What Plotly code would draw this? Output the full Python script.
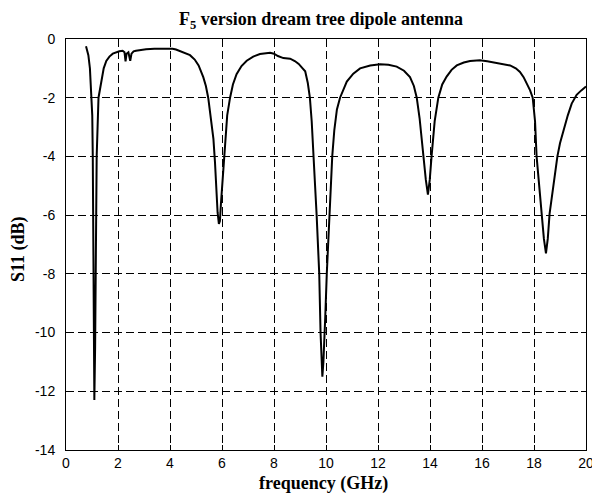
import plotly.graph_objects as go

# Measured return loss of the F5 dream tree dipole antenna
freq_ghz = [
    0.77, 0.79, 0.86, 0.92, 0.97, 1.01, 1.03, 1.05, 1.07, 1.09, 1.12, 1.15, 1.18, 1.25,
    1.37, 1.45, 1.55, 1.67, 1.8, 1.92, 2.05, 2.18, 2.25, 2.29, 2.33, 2.4, 2.47, 2.52,
    2.6, 2.69, 2.85, 3.08, 3.4, 3.85, 4.1, 4.23, 4.4, 4.55, 4.77, 4.95, 5.1, 5.28,
    5.38, 5.47, 5.58, 5.67, 5.73, 5.77, 5.83, 5.88, 5.92, 5.96, 6.01, 6.06, 6.12, 6.2,
    6.31, 6.42, 6.56, 6.75, 6.95, 7.2, 7.46, 7.7, 7.85, 8.0, 8.15, 8.36, 8.62, 8.8,
    8.95, 9.1, 9.2, 9.3, 9.38, 9.45, 9.51, 9.58, 9.64, 9.69, 9.74, 9.79, 9.83, 9.86,
    9.9, 9.94, 9.97, 10.03, 10.08, 10.12, 10.18, 10.24, 10.32, 10.42, 10.54, 10.67,
    10.8, 11.05, 11.31, 11.7, 12.08, 12.4, 12.72, 13.0, 13.23, 13.38, 13.49, 13.6,
    13.74, 13.84, 13.92, 13.99, 14.06, 14.18, 14.32, 14.47, 14.64, 14.83, 15.03, 15.3,
    15.54, 15.92, 16.2, 16.56, 17.08, 17.3, 17.46, 17.6, 17.72, 17.85, 17.95, 18.04,
    18.1, 18.2, 18.3, 18.38, 18.46, 18.53, 18.6, 18.74, 18.82, 18.9, 19.0, 19.13,
    19.3, 19.45, 19.64, 19.82, 20.0,
]
s11_db = [
    -0.25, -0.3, -0.55, -1.0, -1.8, -2.6, -4.0, -7.0, -10.0, -12.3, -10.5, -7.0, -4.0, -2.0,
    -1.4, -1.0, -0.75, -0.6, -0.5, -0.45, -0.42, -0.4, -0.45, -0.76, -0.5, -0.45, -0.74, -0.5,
    -0.42, -0.4, -0.37, -0.35, -0.33, -0.32, -0.33, -0.36, -0.42, -0.48, -0.55, -0.7, -0.9, -1.3,
    -1.6, -2.0, -2.7, -3.4, -4.2, -5.0, -5.9, -6.3, -6.2, -5.6, -5.0, -4.1, -3.4, -2.6,
    -2.0, -1.55, -1.2, -0.92, -0.74, -0.6, -0.51, -0.47, -0.47, -0.5, -0.58, -0.65, -0.67, -0.75,
    -0.85, -1.0, -1.1, -1.5, -2.0, -2.8, -4.0, -5.0, -6.0, -7.0, -8.0, -10.0, -11.0, -11.5,
    -11.0, -10.3, -9.5, -8.0, -7.0, -6.0, -5.0, -4.0, -3.1, -2.4, -2.0, -1.7,
    -1.45, -1.18, -1.0, -0.9, -0.86, -0.88, -0.94, -1.08, -1.3, -1.6, -2.0, -2.7,
    -4.0, -4.8, -5.3, -4.8, -4.0, -2.8, -2.0, -1.55, -1.28, -1.05, -0.9, -0.8,
    -0.75, -0.72, -0.76, -0.82, -0.9, -1.0, -1.12, -1.3, -1.52, -1.75, -2.0, -2.8,
    -4.0, -5.0, -5.95, -6.8, -7.3, -6.8, -5.95, -5.0, -4.5, -4.0, -3.55, -3.1,
    -2.6, -2.2, -1.9, -1.75, -1.62,
]

x_ticks = [0, 2, 4, 6, 8, 10, 12, 14, 16, 18, 20]
y_ticks = [0, -2, -4, -6, -8, -10, -12, -14]

W, H = 592, 498
L, R, T, B = 66, 6, 39, 48
PW, PH = W - L - R, H - T - B

fig = go.Figure(
    go.Scatter(
        x=freq_ghz, y=s11_db, mode="lines",
        line=dict(color="black", width=2),
        showlegend=False,
    )
)

axis_common = dict(
    showline=True, linecolor="black", linewidth=1, mirror="ticks",
    ticks="inside", ticklen=5, tickcolor="black", tickwidth=1,
    showgrid=True, gridcolor="black", gridwidth=1, griddash="8px,4px",
    zeroline=False, ticklabeloverflow="allow",
    tickfont=dict(family="Liberation Sans, Arial, sans-serif", size=14, color="black"),
)

fig.update_xaxes(range=[0, 20], tickvals=x_ticks, ticktext=[str(v) for v in x_ticks],
                 ticklabelstandoff=0, **axis_common)
fig.update_yaxes(range=[-14, 0], tickvals=y_ticks, ticktext=[str(v) for v in y_ticks],
                 ticklabelstandoff=7, **axis_common)

serif = "Liberation Serif, Times New Roman, serif"
fig.update_layout(
    width=W, height=H,
    margin=dict(l=L, r=R, t=T, b=B, autoexpand=False),
    paper_bgcolor="white", plot_bgcolor="white",
    title=dict(
        text="<b>F<sub>5</sub> version dream tree dipole antenna</b>",
        x=321 / W, xanchor="center",
        y=1 - 19 / H, yanchor="middle", yref="container",
        font=dict(family=serif, size=18, color="black"),
    ),
    annotations=[
        dict(text="<b>frequency (GHz)</b>", xref="paper", yref="paper",
             x=(323 - L) / PW, y=-(483 - (T + PH)) / PH, xanchor="center", yanchor="middle",
             showarrow=False, font=dict(family=serif, size=18, color="black")),
        dict(text="<b>S11 (dB)</b>", xref="paper", yref="paper", textangle=-90,
             x=-(L - 18) / PW, y=1 - (249 - T) / PH,
             xanchor="center", yanchor="middle",
             showarrow=False, font=dict(family=serif, size=18, color="black")),
    ],
)

fig.write_html("out.html")
